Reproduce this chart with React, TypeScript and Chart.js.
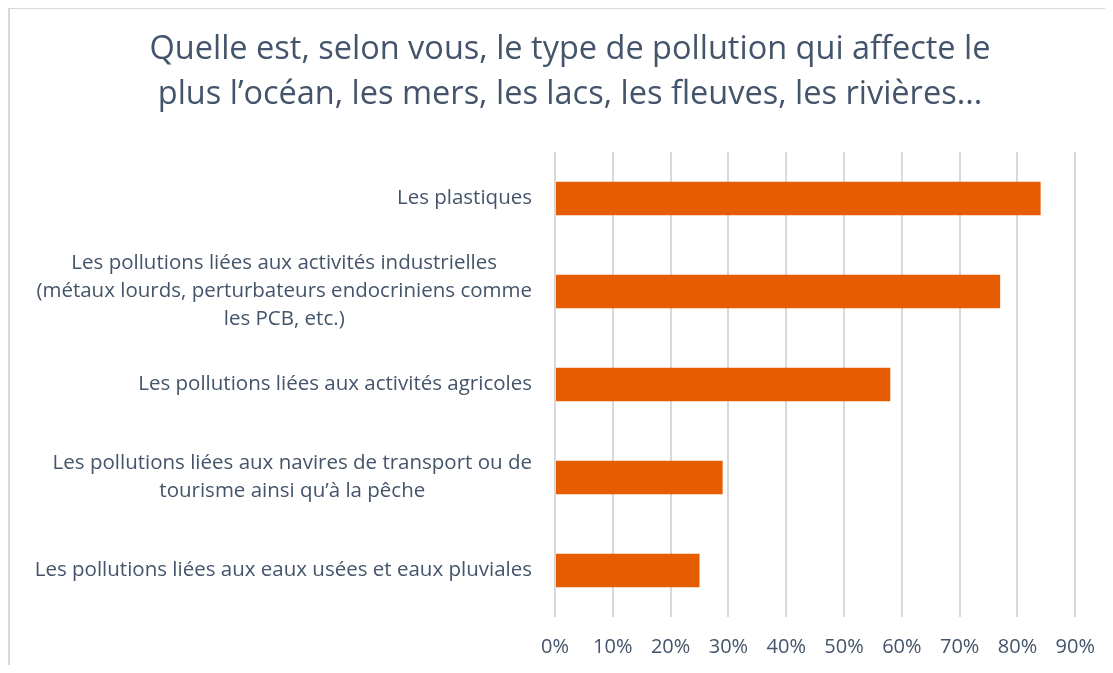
import React, { useEffect, useRef } from "react";
import { Chart, registerables } from "chart.js";

Chart.register(...registerables);

const titleLines = [
  "Quelle est, selon vous, le type de pollution qui affecte le",
  "plus l’océan, les mers, les lacs, les fleuves, les rivières...",
];

const categories: string[][] = [
  ["Les plastiques"],
  [
    "Les pollutions liées aux activités industrielles",
    "(métaux lourds, perturbateurs endocriniens comme",
    "les PCB, etc.)",
  ],
  ["Les pollutions liées aux activités agricoles"],
  ["Les pollutions liées aux navires de transport ou de", "tourisme ainsi qu’à la pêche"],
  ["Les pollutions liées aux eaux usées et eaux pluviales"],
];

const values = [0.84, 0.77, 0.58, 0.29, 0.25];

const xTicks = [0, 0.1, 0.2, 0.3, 0.4, 0.5, 0.6, 0.7, 0.8, 0.9];

const FONT = "'Open Sans'";
const TEXT = "#44546A";
const BAR = "#E65C00";
const GRID = "#D9D9D9";

const labelPlugin = {
  id: "centeredYLabels",
  afterDraw(chart: any) {
    const ctx = chart.ctx;
    const yScale = chart.scales.y;
    const right = chart.chartArea.left - 23;
    const lh = 28;
    ctx.save();
    ctx.font = `20.5px ${FONT}`;
    ctx.fillStyle = TEXT;
    ctx.textAlign = "center";
    ctx.textBaseline = "middle";
    categories.forEach((lines, i) => {
      const y = yScale.getPixelForTick(i);
      const w = Math.max(...lines.map((l) => ctx.measureText(l).width));
      const cx = right - w / 2;
      const y0 = y - ((lines.length - 1) * lh) / 2;
      lines.forEach((l, k) => ctx.fillText(l, cx, y0 + k * lh));
    });
    ctx.restore();
  },
};

export default function App() {
  const ref = useRef<HTMLCanvasElement | null>(null);
  useEffect(() => {
    if (!ref.current) return;
    const chart = new Chart(ref.current, {
      type: "bar",
      data: {
        labels: categories,
        datasets: [
          {
            data: values,
            backgroundColor: BAR,
            borderWidth: 0,
            barPercentage: 0.36,
            categoryPercentage: 1,
          },
        ],
      },
      plugins: [labelPlugin],
      options: {
        indexAxis: "y",
        responsive: false,
        animation: false,
        layout: { padding: { left: 54, right: 37, top: 0, bottom: 0 } },
        plugins: {
          legend: { display: false },
          tooltip: { enabled: false },
          title: {
            display: true,
            text: titleLines,
            color: TEXT,
            font: { family: FONT, size: 32.5, weight: "normal", lineHeight: 1.385 },
            padding: { top: 18.5, bottom: 34.5 },
          },
        },
        scales: {
          x: {
            min: 0,
            max: 0.9,
            afterBuildTicks(scale: any) {
              scale.ticks = xTicks.map((v) => ({ value: v }));
            },
            grid: { color: GRID, lineWidth: 2, drawTicks: false },
            border: { display: false },
            ticks: {
              color: TEXT,
              padding: 18,
              font: { family: FONT, size: 20 },
              callback: (v: any) => `${Math.round(Number(v) * 100)}%`,
            },
          },
          y: {
            grid: { display: false },
            border: { display: false },
            ticks: { display: false },
            afterFit(scale: any) {
              scale.width = 491;
            },
          },
        },
      },
    });
    return () => chart.destroy();
  }, []);
  return (
    <div
      style={{
        width: 1105,
        height: 666,
        overflow: "hidden",
        marginTop: -1,
        marginBottom: -8,
        borderLeft: "2px solid #D9D9D9",
        borderTop: "2px solid #D9D9D9",
        boxSizing: "border-box",
      }}
    >
      <canvas ref={ref} width={1103} height={668} style={{ display: "block" }} />
    </div>
  );
}
